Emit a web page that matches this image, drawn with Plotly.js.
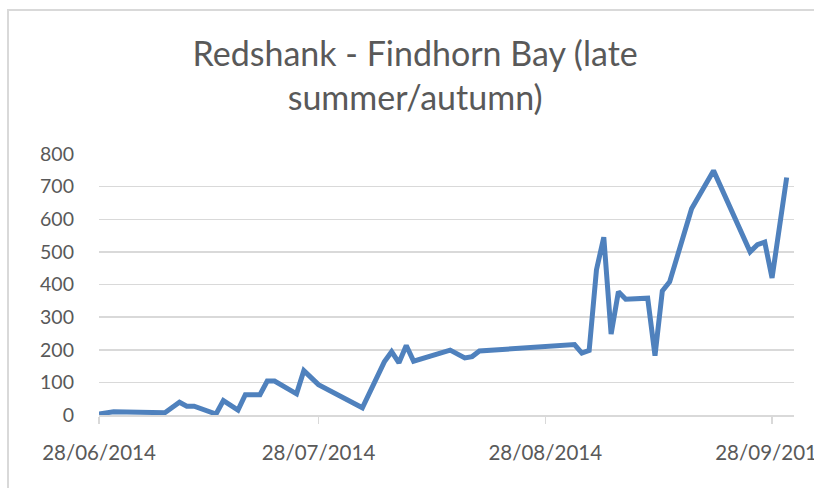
<!DOCTYPE html>
<html>
<head>
<meta charset="utf-8">
<script src="https://cdn.plot.ly/plotly-3.0.1.min.js"></script>
<style>
  html, body { margin: 0; padding: 0; background: #ffffff; }
  #chart { position: absolute; left: 0; top: 0; width: 814px; height: 488px; }
  #frame { position: absolute; left: 7px; top: 9px; width: 900px; height: 600px;
           border-left: 2px solid #d9d9d9; border-top: 2px solid #d9d9d9; pointer-events: none; }
</style>
</head>
<body>
<div id="chart"></div>
<div id="frame"></div>
<script>
const dates = [
  "2014-06-28","2014-06-30","2014-07-07","2014-07-09","2014-07-10","2014-07-11",
  "2014-07-14","2014-07-15","2014-07-17","2014-07-18","2014-07-20","2014-07-21",
  "2014-07-22","2014-07-25","2014-07-26","2014-07-28","2014-08-03","2014-08-06",
  "2014-08-07","2014-08-08","2014-08-09","2014-08-10","2014-08-15","2014-08-17",
  "2014-08-18","2014-08-19","2014-09-01","2014-09-02","2014-09-03","2014-09-04",
  "2014-09-05","2014-09-06","2014-09-07","2014-09-08","2014-09-11","2014-09-12",
  "2014-09-13","2014-09-14","2014-09-17","2014-09-20","2014-09-25","2014-09-26",
  "2014-09-27","2014-09-28","2014-09-30"
];
const counts = [
  3, 10, 7, 39, 27, 27,
  3, 44, 15, 62, 62, 104,
  104, 65, 136, 93, 22, 163,
  194, 160, 213, 165, 199, 175,
  179, 196, 216, 190, 198, 445,
  545, 248, 378, 355, 358, 182,
  380, 408, 632, 749, 500, 522,
  530, 420, 728
];
const xTickVals = ["2014-06-28","2014-07-28","2014-08-28","2014-09-28"];
const xTickText = ["28/06/2014","28/07/2014","28/08/2014","28/09/2014"];
const yTickVals = [0,100,200,300,400,500,600,700,800];
const titleText = "Redshank - Findhorn Bay (late<br>summer/autumn)";

const FONT = "Lato, 'Open Sans', sans-serif";
const GREY = "#595959";

Plotly.newPlot("chart", [{
  x: dates,
  y: counts,
  type: "scatter",
  mode: "lines",
  line: { color: "#4f81bd", width: 5, shape: "linear" },
  hoverinfo: "x+y"
}], {
  width: 814,
  height: 488,
  margin: { l: 99, r: 20, t: 154, b: 73 },
  paper_bgcolor: "#ffffff",
  plot_bgcolor: "#ffffff",
  showlegend: false,
  title: {
    text: titleText,
    font: { family: FONT, size: 34, color: GREY },
    xref: "container", x: 0.51, xanchor: "center",
    yref: "container", y: 0.865, yanchor: "top"
  },
  xaxis: {
    type: "date",
    range: ["2014-06-28", "2014-10-01"],
    tickmode: "array",
    tickvals: xTickVals,
    ticktext: xTickText,
    ticks: "outside",
    ticklen: 7,
    tickwidth: 1.5,
    tickcolor: "#d9d9d9",
    ticklabelstandoff: 12,
    ticklabeloverflow: "allow",
    showgrid: false,
    showline: true,
    linecolor: "#d9d9d9",
    linewidth: 1.5,
    zeroline: false,
    tickfont: { family: FONT, size: 20.5, color: GREY }
  },
  yaxis: {
    range: [0, 800],
    tickmode: "array",
    tickvals: yTickVals,
    ticks: "",
    showgrid: true,
    gridcolor: "#d9d9d9",
    gridwidth: 1.5,
    zeroline: false,
    showline: false,
    ticklabelstandoff: 24,
    tickfont: { family: FONT, size: 19.5, color: GREY }
  }
}, { displayModeBar: false, staticPlot: true });
</script>
</body>
</html>
